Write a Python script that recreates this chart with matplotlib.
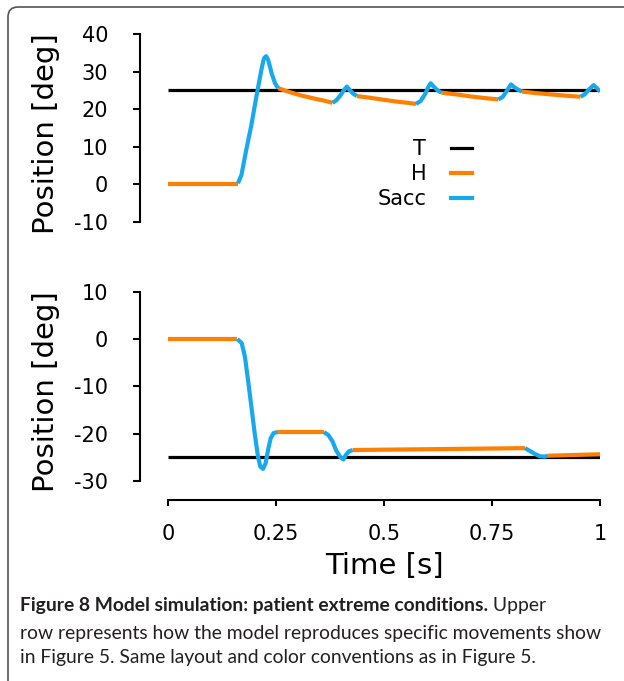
import matplotlib
matplotlib.use('Agg')
import matplotlib.pyplot as plt
from matplotlib.patches import FancyBboxPatch
from matplotlib.transforms import IdentityTransform
from matplotlib.lines import Line2D

plt.rcParams['axes.unicode_minus'] = False
plt.rcParams['font.family'] = ['DejaVu Sans']

# ---------------- data ----------------
x_ticks = [0, 0.25, 0.5, 0.75, 1]
x_tick_labels = ['0', '0.25', '0.5', '0.75', '1']
top_y_ticks = [-10, 0, 10, 20, 30, 40]
bot_y_ticks = [-30, -20, -10, 0, 10]

# upper panel
top_T_t = [0.0, 1.0]
top_T = [25, 25]
top_H_t = [
    [0.0, 0.163],
    [0.255, 0.28, 0.31, 0.34, 0.36, 0.381],
    [0.437, 0.47, 0.50, 0.53, 0.555, 0.574],
    [0.633, 0.67, 0.70, 0.73, 0.765],
    [0.819, 0.85, 0.88, 0.91, 0.955],
]
top_H = [
    [0.0, 0.0],
    [25.6, 24.6, 23.6, 22.8, 22.3, 21.7],
    [23.5, 23.0, 22.5, 22.0, 21.7, 21.4],
    [24.4, 23.9, 23.4, 23.0, 22.6],
    [24.7, 24.3, 24.0, 23.7, 23.3],
]
top_S_t = [
    [0.162, 0.170, 0.181, 0.193, 0.2045, 0.216, 0.222, 0.227, 0.232, 0.240, 0.2477, 0.255],
    [0.381, 0.39, 0.40, 0.408, 0.414, 0.42, 0.428, 0.437],
    [0.574, 0.585, 0.595, 0.603, 0.608, 0.615, 0.624, 0.633],
    [0.765, 0.775, 0.785, 0.794, 0.80, 0.81, 0.819],
    [0.955, 0.965, 0.975, 0.985, 0.993, 1.0],
]
top_S = [
    [0.3, 2.5, 9.1, 15.8, 23.3, 30.4, 33.5, 34.1, 33.1, 29.5, 26.9, 25.6],
    [21.7, 22.4, 23.8, 25.2, 26.0, 25.2, 24.2, 23.5],
    [21.4, 22.2, 24.0, 26.0, 26.9, 26.0, 25.0, 24.4],
    [22.6, 23.3, 25.0, 26.6, 26.0, 25.2, 24.7],
    [23.3, 24.0, 25.3, 26.4, 25.6, 24.7],
]

# lower panel
bot_T_t = [0.0, 1.0]
bot_T = [-25, -25]
bot_H_t = [
    [0.0, 0.1605],
    [0.253, 0.361],
    [0.4275, 0.8264],
    [0.8796, 1.0],
]
bot_H = [
    [0.0, 0.0],
    [-19.7, -19.7],
    [-23.5, -23.1],
    [-24.7, -24.4],
]
bot_S_t = [
    [0.1605, 0.1705, 0.178, 0.1852, 0.193, 0.2006, 0.2083, 0.2137, 0.2199, 0.226, 0.2315, 0.2377, 0.2446, 0.253],
    [0.361, 0.371, 0.381, 0.3889, 0.3981, 0.4059, 0.412, 0.4182, 0.4275],
    [0.8264, 0.838, 0.8488, 0.8603, 0.8719, 0.8796],
]
bot_S = [
    [0.0, -0.8, -3.7, -8.6, -14.3, -19.9, -24.9, -27.0, -27.5, -26.3, -23.5, -21.0, -19.9, -19.7],
    [-19.7, -20.3, -21.7, -23.5, -24.9, -25.5, -24.5, -23.8, -23.5],
    [-23.1, -23.7, -24.3, -24.8, -24.9, -24.7],
]

legend_labels = ['T', 'H', 'Sacc']

# ---------------- style ----------------
C_T = '#000000'
C_H = '#FF7F00'
C_S = '#18A8EE'
LW_T = 2.3
LW_C = 3.0
TICK_FS = 15
LABEL_FS = 21

W, H = 624, 681
fig = plt.figure(figsize=(W / 100, H / 100), dpi=100)


def px_axes(x0, y_top, x1, y_bot):
    return [x0 / W, 1 - y_bot / H, (x1 - x0) / W, (y_bot - y_top) / H]


ax1 = fig.add_axes(px_axes(168, 34, 600, 222))
ax2 = fig.add_axes(px_axes(168, 292, 600, 480.7))


def draw(ax, Tt, T, Ht, Hv, St, Sv):
    ax.plot(Tt, T, color=C_T, lw=LW_T, solid_capstyle='butt', zorder=2)
    for t, v in zip(Ht, Hv):
        ax.plot(t, v, color=C_H, lw=LW_C, solid_capstyle='butt', zorder=3)
    for t, v in zip(St, Sv):
        ax.plot(t, v, color=C_S, lw=LW_C, solid_capstyle='butt',
                solid_joinstyle='round', zorder=4)


draw(ax1, top_T_t, top_T, top_H_t, top_H, top_S_t, top_S)
draw(ax2, bot_T_t, bot_T, bot_H_t, bot_H, bot_S_t, bot_S)

for ax in (ax1, ax2):
    ax.set_xlim(0, 1)
    ax.patch.set_visible(False)
    for s in ('top', 'right'):
        ax.spines[s].set_visible(False)
    ax.spines['left'].set_position(('outward', 20.2))
    ax.spines['left'].set_linewidth(1.5)
    ax.tick_params(axis='y', direction='out', length=5, width=1.5,
                   labelsize=TICK_FS, pad=18)
    ax.set_ylabel('Position [deg]', fontsize=LABEL_FS)
    ax.yaxis.set_label_coords(-0.25, 0.47)

ax1.set_ylim(-10, 40)
ax1.set_yticks(top_y_ticks)
ax1.spines['bottom'].set_visible(False)
ax1.set_xticks([])

ax2.set_ylim(-30, 10)
ax2.set_yticks(bot_y_ticks)
ax2.spines['bottom'].set_position(('outward', 13.9))
ax2.spines['bottom'].set_linewidth(1.5)
ax2.set_xticks(x_ticks)
ax2.set_xticklabels(x_tick_labels)
ax2.tick_params(axis='x', direction='out', length=4.5, width=1.5,
                labelsize=TICK_FS, pad=13)
ax2.set_xlabel('Time [s]', fontsize=LABEL_FS, labelpad=5.5)

handles = [Line2D([], [], color=c, lw=LW_C) for c in (C_T, C_H, C_S)]
handles[0].set_linewidth(LW_T)
ax1.legend(handles, legend_labels, loc='upper right',
           bbox_to_anchor=(0.7037, 0.44), frameon=False, markerfirst=False,
           handlelength=1.0, handletextpad=1.2, labelspacing=0.24,
           fontsize=TICK_FS, borderpad=0, borderaxespad=0)

# caption
CAP_COLOR = '#231f20'
CAP_FONT = 'Lato'
renderer = fig.canvas.get_renderer()
probe = fig.text(0, 0, 'row represents how the model reproduces specific movements show',
                 fontsize=10, family=CAP_FONT)
wp = probe.get_window_extent(renderer).width
probe.remove()
cap_fs = 10 * 585 / wp

x0 = 20 / W
t1 = fig.text(x0, 1 - 605 / H, 'Figure 8 Model simulation: patient extreme conditions.',
              fontsize=cap_fs, family=CAP_FONT, weight='bold', color=CAP_COLOR,
              va='center', ha='left')
bb = t1.get_window_extent(renderer)
fig.text(bb.x1 / W, 1 - 605 / H, ' Upper', fontsize=cap_fs, family=CAP_FONT,
         color=CAP_COLOR, va='center', ha='left')
fig.text(x0, 1 - 633 / H, 'row represents how the model reproduces specific movements show',
         fontsize=cap_fs, family=CAP_FONT, color=CAP_COLOR, va='center', ha='left')
fig.text(x0, 1 - 657 / H, 'in Figure 5. Same layout and color conventions as in Figure 5.',
         fontsize=cap_fs, family=CAP_FONT, color=CAP_COLOR, va='center', ha='left')

# outer rounded frame
frame = FancyBboxPatch((8, -30), 660, H - 7 + 30,
                       boxstyle='round,pad=0,rounding_size=10',
                       transform=IdentityTransform(), fill=False,
                       edgecolor='#555555', lw=1.2)
fig.add_artist(frame)

fig.savefig('out.png', dpi=100)
